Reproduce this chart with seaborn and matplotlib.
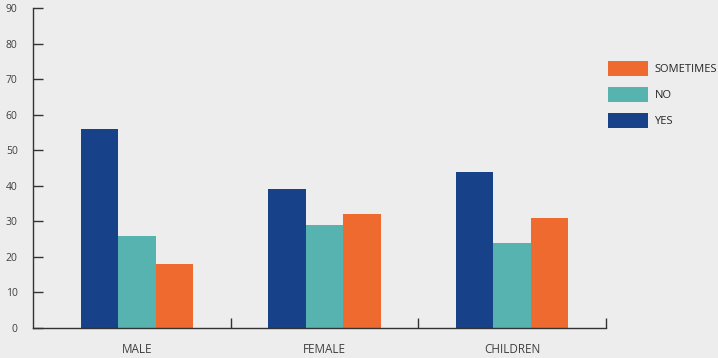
import matplotlib
matplotlib.use("Agg")
import matplotlib.pyplot as plt
import seaborn as sns
import pandas as pd
from matplotlib.patches import Patch

categories = ["MALE", "FEMALE", "CHILDREN"]
yes_vals = [56, 39, 44]
no_vals = [26, 29, 24]
sometimes_vals = [18, 32, 31]
series = ["YES", "NO", "SOMETIMES"]
colors = {"YES": "#174189", "NO": "#57B3AF", "SOMETIMES": "#EE6A2F"}
yticks = [0, 10, 20, 30, 40, 50, 60, 70, 80, 90]

rows = []
for s, vals in zip(series, [yes_vals, no_vals, sometimes_vals]):
    for c, v in zip(categories, vals):
        rows.append({"cat": c, "series": s, "value": v})
df = pd.DataFrame(rows)

sns.set_theme(style="white")
plt.rcParams["font.family"] = ["Open Sans", "DejaVu Sans"]
bg = "#EDEDED"
fig = plt.figure(figsize=(7.18, 3.58), dpi=100, facecolor=bg)
ax = fig.add_axes([33/718, 1 - 328/358, (606-33)/718, 320/358])
ax.set_facecolor(bg)

sns.barplot(data=df, x="cat", y="value", hue="series", hue_order=series,
            order=categories, palette=colors, width=0.6, saturation=1,
            ax=ax, legend=False, linewidth=0)

ax.set_ylim(0, 90)
ax.set_xlim(-0.5 - 10/188, 2.5)
ax.set_yticks(yticks)
ax.set_yticklabels([str(t) for t in yticks], fontsize=7.5, color="#404040")
ax.set_xticks([0.5, 1.5, 2.5])
ax.set_xticklabels([])
ax.set_xticks([0, 1, 2], minor=True)
ax.set_xticklabels(categories, minor=True, fontsize=8.5, color="#404040")
ax.tick_params(axis="x", which="major", bottom=True, direction="in", length=7, width=1, color="#333333")
ax.tick_params(axis="x", which="minor", bottom=True, length=0, pad=11)
ax.tick_params(axis="y", left=True, direction="in", length=7, width=1, color="#333333", pad=11)
ax.set_xlabel("")
ax.set_ylabel("")
for sp in ["top", "right"]:
    ax.spines[sp].set_visible(False)
for sp in ["left", "bottom"]:
    ax.spines[sp].set_color("#333333")
    ax.spines[sp].set_linewidth(1)

handles = [Patch(facecolor=colors[s], edgecolor="none", label=s) for s in reversed(series)]
fig.legend(handles=handles, loc="upper left", bbox_to_anchor=(600/718, 1 - 53/358),
           frameon=False, fontsize=8, handlelength=3.6, handleheight=1.7,
           labelspacing=1.0, handletextpad=0.6, borderpad=0.2)

fig.savefig("out.png", dpi=100, facecolor=bg)
